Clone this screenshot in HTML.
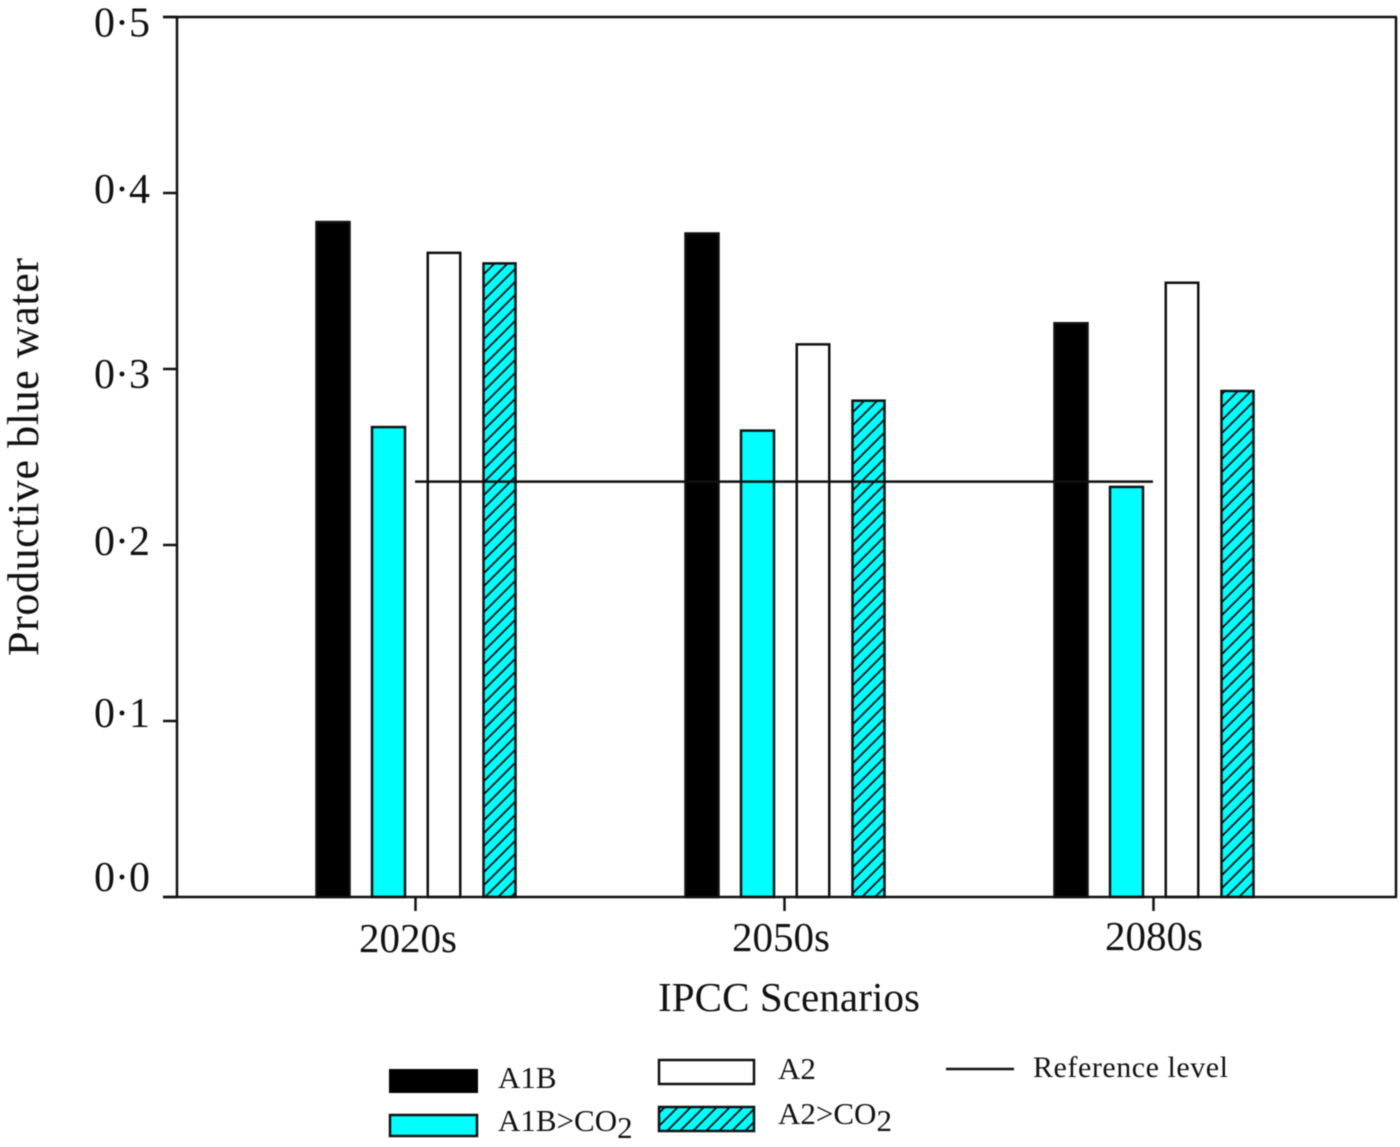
<!DOCTYPE html>
<html lang="en">
<head>
<meta charset="utf-8">
<title>Productive blue water by IPCC scenario</title>
<style>
html,body{margin:0;padding:0;background:#fff;width:1400px;height:1147px;overflow:hidden}
svg{display:block;filter:blur(.55px)}
text{font-family:"Liberation Serif",serif;fill:#111}
</style>
</head>
<body>
<svg id="chart" xmlns="http://www.w3.org/2000/svg" width="1400" height="1147" viewBox="0 0 1400 1147">
<defs>
<pattern id="hatch" patternUnits="userSpaceOnUse" width="13" height="13" patternTransform="translate(0 4)">
<rect width="13" height="13" fill="#00ffff"/>
<path d="M-3 3L3 -3M0 13L13 0M10 16L16 10" stroke="#0a0a0a" stroke-width="1.8"/>
</pattern>
</defs>
<g id="plot"></g>
<text x="24" y="457" font-size="44" text-anchor="middle" textLength="398" lengthAdjust="spacing" transform="rotate(-90 24 457) translate(0 14)">Productive blue water</text>
<text x="789" y="1011" font-size="41" text-anchor="middle" textLength="262">IPCC Scenarios</text>
<g>
<g>
<rect x="389" y="1069" width="89" height="24" fill="#000"/>
<text x="498" y="1088" font-size="31">A1B</text>
</g>
<g>
<rect x="390" y="1115" width="87" height="21" fill="#00ffff" stroke="#111" stroke-width="2.5"/>
<text x="498" y="1131" font-size="31">A1B&gt;CO<tspan dy="7">2</tspan></text>
</g>
<g>
<rect x="659" y="1060" width="95" height="24" fill="#fff" stroke="#111" stroke-width="2.5"/>
<text x="778" y="1079" font-size="31">A2</text>
</g>
<g>
<rect x="659" y="1107" width="95" height="24" fill="url(#hatch)" stroke="#111" stroke-width="2.5"/>
<text x="778" y="1124" font-size="31">A2&gt;CO<tspan dy="7">2</tspan></text>
</g>
<g>
<line x1="946" x2="1014" y1="1069" y2="1069" stroke="#111" stroke-width="2.5"/>
<text x="1033" y="1077" font-size="30" textLength="195">Reference level</text>
</g>
</g>
</svg>
<script>
const categories = ['2020s', '2050s', '2080s'];
const a1bValues = [0.3835, 0.377, 0.326];
const a1bCo2Values = [0.267, 0.265, 0.233];
const a2Values = [0.366, 0.314, 0.349];
const a2Co2Values = [0.36, 0.282, 0.2875];
const referenceLevel = [0.236];
const yTickValues = [0, 0.1, 0.2, 0.3, 0.4, 0.5];
const yTickLabels = ['0·0', '0·1', '0·2', '0·3', '0·4', '0·5'];

const NS = 'http://www.w3.org/2000/svg';
const plot = document.getElementById('plot');
const yScale = v => 897 - v * 1760;
const xScale = i => 416 + i * 369;
const xLabelScale = i => 408 + i * 373;

function make(tag, attrs, parent) {
  const el = document.createElementNS(NS, tag);
  for (const k in attrs) el.setAttribute(k, attrs[k]);
  parent.appendChild(el);
  return el;
}

const seriesList = [
  { key: 'a1b', values: a1bValues, offset: -83, width: 33, fill: '#000' },
  { key: 'a1b-co2', values: a1bCo2Values, offset: -27.5, width: 33, fill: '#00ffff' },
  { key: 'a2', values: a2Values, offset: 28, width: 32.5, fill: '#fff' },
  { key: 'a2-co2', values: a2Co2Values, offset: 83.5, width: 32, fill: 'url(#hatch)' }
];

seriesList.forEach(s => {
  s.values.forEach((v, i) => {
    const cx = xScale(i) + s.offset;
    const bar = make('rect', {
      x: cx - s.width / 2,
      y: yScale(v),
      width: s.width,
      height: yScale(0) - yScale(v),
      fill: s.fill,
      stroke: '#111',
      'stroke-width': 2.5
    }, plot);
    
    
  });
});

const refLine = make('line', {
  x1: xScale(0) - 1,
  x2: xScale(2) - 1,
  y1: yScale(referenceLevel[0]),
  y2: yScale(referenceLevel[0]),
  stroke: '#111',
  'stroke-width': 2.5
}, plot);



const yAxis = make('line', { x1: 177, x2: 177, y1: yScale(0.5), y2: yScale(0), stroke: '#111', 'stroke-width': 2.5 }, plot);



const xAxis = make('line', { x1: 163, x2: 1397, y1: yScale(0), y2: yScale(0), stroke: '#111', 'stroke-width': 2.5 }, plot);



const topBorder = make('line', { x1: 163, x2: 1397, y1: yScale(0.5), y2: yScale(0.5), stroke: '#111', 'stroke-width': 2.5 }, plot);



const rightBorder = make('line', { x1: 1396, x2: 1396, y1: yScale(0.5), y2: yScale(0), stroke: '#111', 'stroke-width': 2.5 }, plot);



/* small per-label vertical offsets seen in the source figure */
const yLabelDrift = i => [-6, 6, 10, 19, 10, 19.5][i];
yTickValues.forEach((v, i) => {
  const tick = make('line', { x1: 163, x2: 177, y1: yScale(v), y2: yScale(v), stroke: '#111', 'stroke-width': 2.5 }, plot);
  
  
  const label = make('text', { x: 94, y: yScale(v) + yLabelDrift(i), 'font-size': 42 }, plot);
  label.textContent = yTickLabels[i];
  
  
});

categories.forEach((c, i) => {
  const tick = make('line', { x1: xScale(i) - 0.5, x2: xScale(i) - 0.5, y1: yScale(0), y2: yScale(0) + 14, stroke: '#111', 'stroke-width': 2.5 }, plot);
  
  
  const label = make('text', { x: xLabelScale(i), y: 952 - i, 'font-size': 41, 'text-anchor': 'middle' }, plot);
  label.textContent = c;
  
  
});
</script>
</body>
</html>
